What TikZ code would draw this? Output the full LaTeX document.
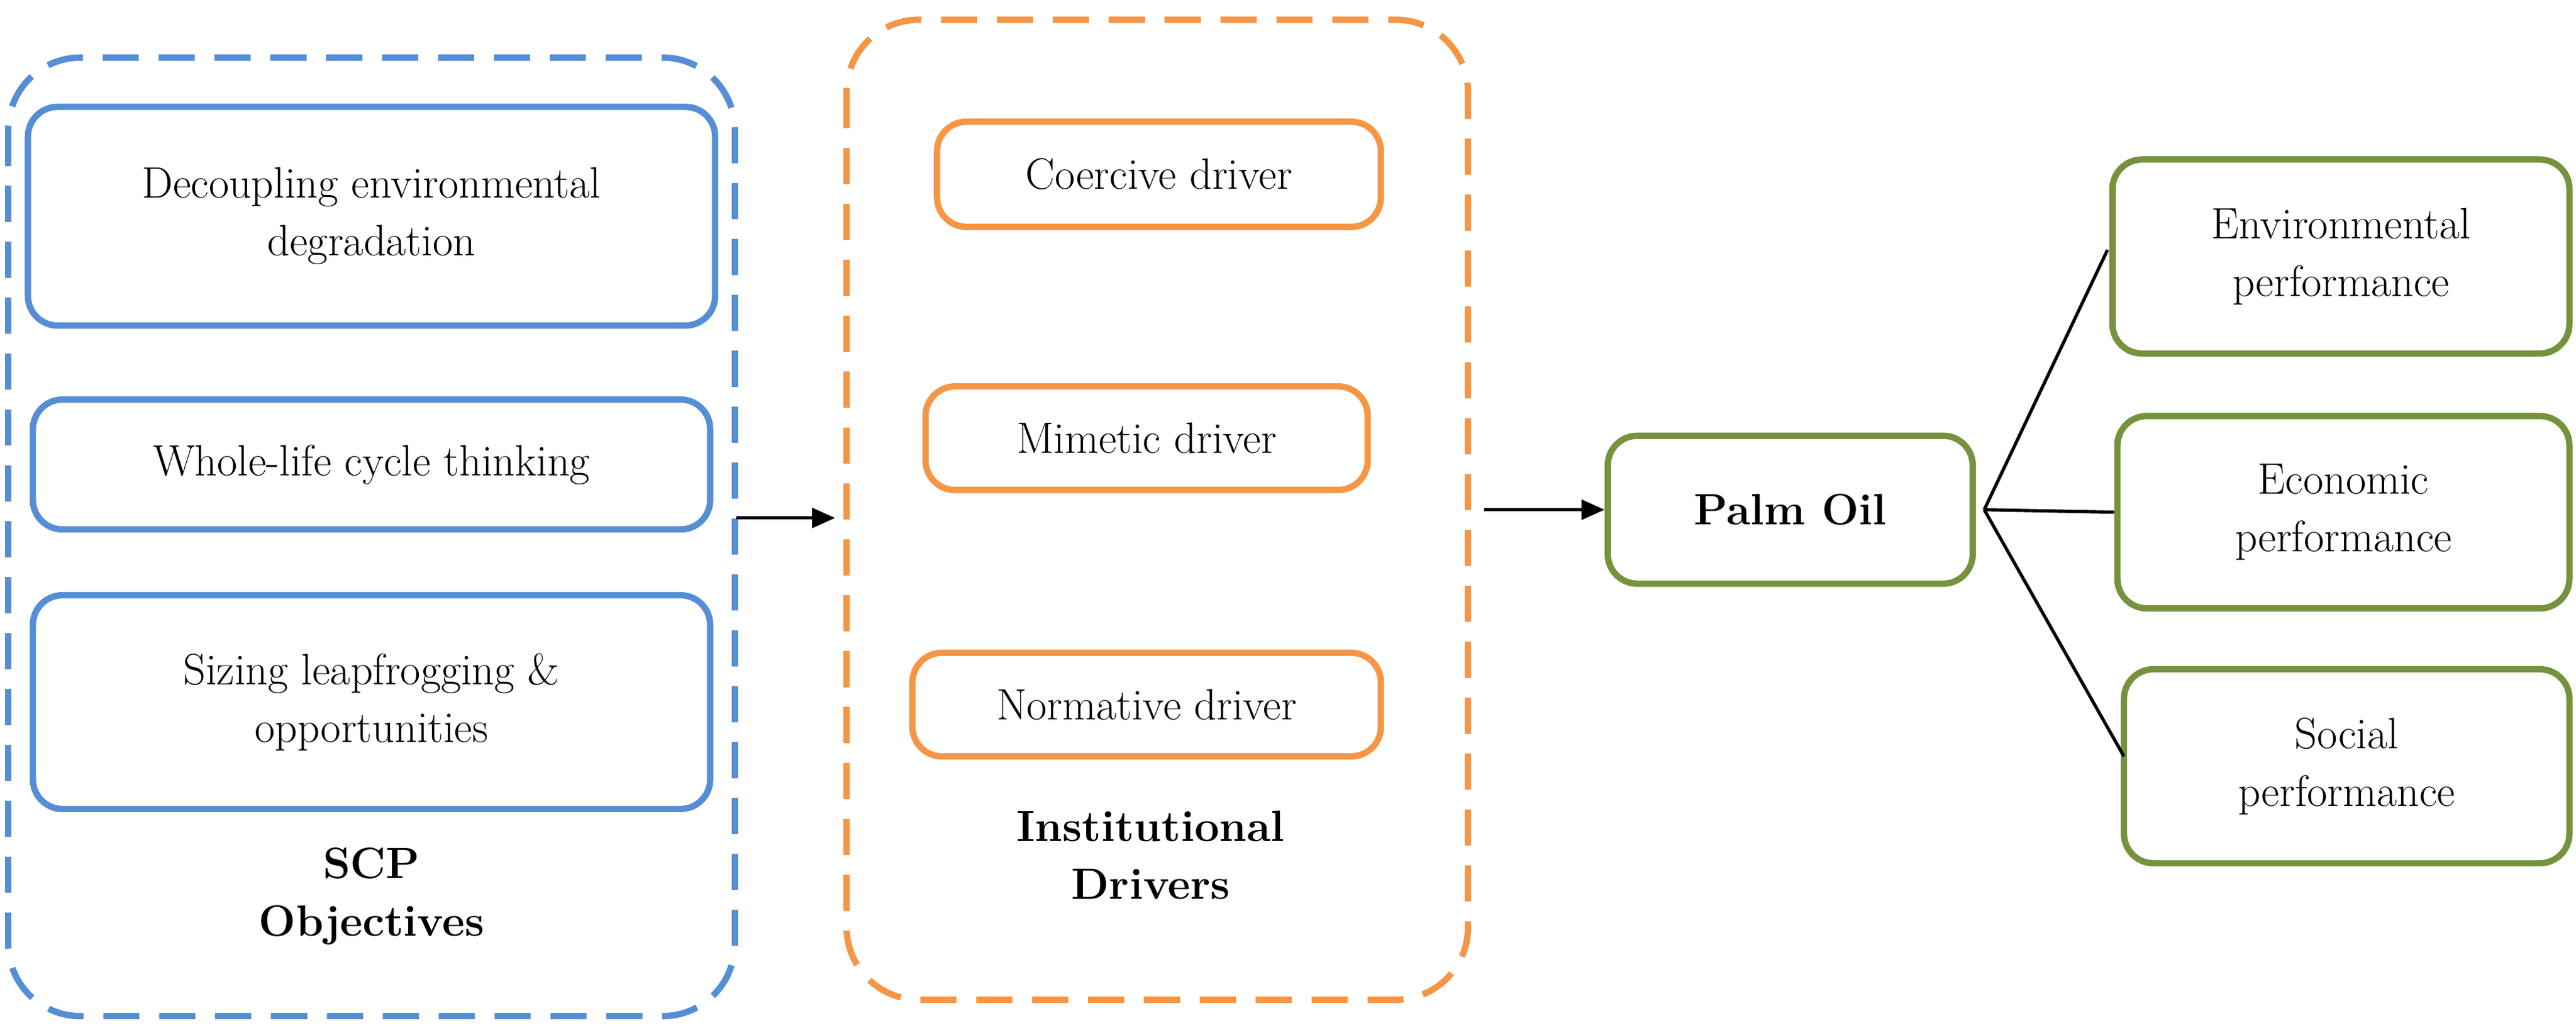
\documentclass[tikz,border=0pt]{standalone}
\usetikzlibrary{arrows.meta}
\definecolor{bl}{RGB}{85,142,213}
\definecolor{og}{RGB}{245,150,70}
\definecolor{gr}{RGB}{118,146,60}
\begin{document}
\begin{tikzpicture}[x=0.05cm,y=-0.05cm,
  every node/.style={font=\fontsize{38}{50}\selectfont,align=center},
  box/.style={draw=#1,line width=5.5pt,rounded corners=0.9cm},
  outer/.style={draw=#1,line width=5.5pt,rounded corners=2.2cm,dash pattern=on 1.1cm off 0.6cm},
  con/.style={line width=2.8pt},
  arr/.style={con,-{Triangle[length=0.7cm,width=0.6cm]}}]
\useasboundingbox (0,0) rectangle (1567,628);
\draw[outer=bl] (5,35) rectangle (447,618);
\node[box=bl,minimum width=418*0.05cm,minimum height=133*0.05cm] (d) at (226,131.5) {Decoupling environmental\\degradation};
\node[box=bl,minimum width=412*0.05cm,minimum height=79*0.05cm] (w) at (226,282.5) {Whole-life cycle thinking};
\node[box=bl,minimum width=412*0.05cm,minimum height=130*0.05cm] (s) at (226,427) {Sizing leapfrogging \&\\opportunities};
\node[font=\fontsize{38}{50}\selectfont\bfseries] (scp) at (226,545) {SCP\\Objectives};
\draw[outer=og] (515,12) rectangle (893,608);
\node[box=og,minimum width=270*0.05cm,minimum height=64*0.05cm] (c) at (705,106) {Coercive driver};
\node[box=og,minimum width=269*0.05cm,minimum height=63*0.05cm] (m) at (697.5,266.5) {Mimetic driver};
\node[box=og,minimum width=285*0.05cm,minimum height=63*0.05cm] (n) at (697.5,428.5) {Normative driver};
\node[font=\fontsize{38}{50}\selectfont\bfseries] (inst) at (700,520) {Institutional\\Drivers};
\coordinate (a1) at (448,315); \coordinate (a2) at (508,315);
\draw[arr] (a1) -- (a2);
\coordinate (b1) at (903,310);
\node[box=gr,minimum width=222*0.05cm,minimum height=90*0.05cm,font=\fontsize{38}{50}\selectfont\bfseries] (p) at (1089,310) {Palm Oil};
\draw[arr] (b1) -- (p.west);
\node[box=gr,minimum width=278*0.05cm,minimum height=118*0.05cm] (e1) at (1424,156) {Environmental\\performance};
\node[box=gr,minimum width=275*0.05cm,minimum height=117*0.05cm] (e2) at (1425.5,311.5) {Economic\\performance};
\node[box=gr,minimum width=271*0.05cm,minimum height=118*0.05cm] (e3) at (1427.5,466) {Social\\performance};
\coordinate (h) at (1207,310);
\draw[con] (h) -- (1282,152);
\draw[con] (h) -- (e2.west);
\draw[con] (h) -- (1292,460);
\end{tikzpicture}
\end{document}
